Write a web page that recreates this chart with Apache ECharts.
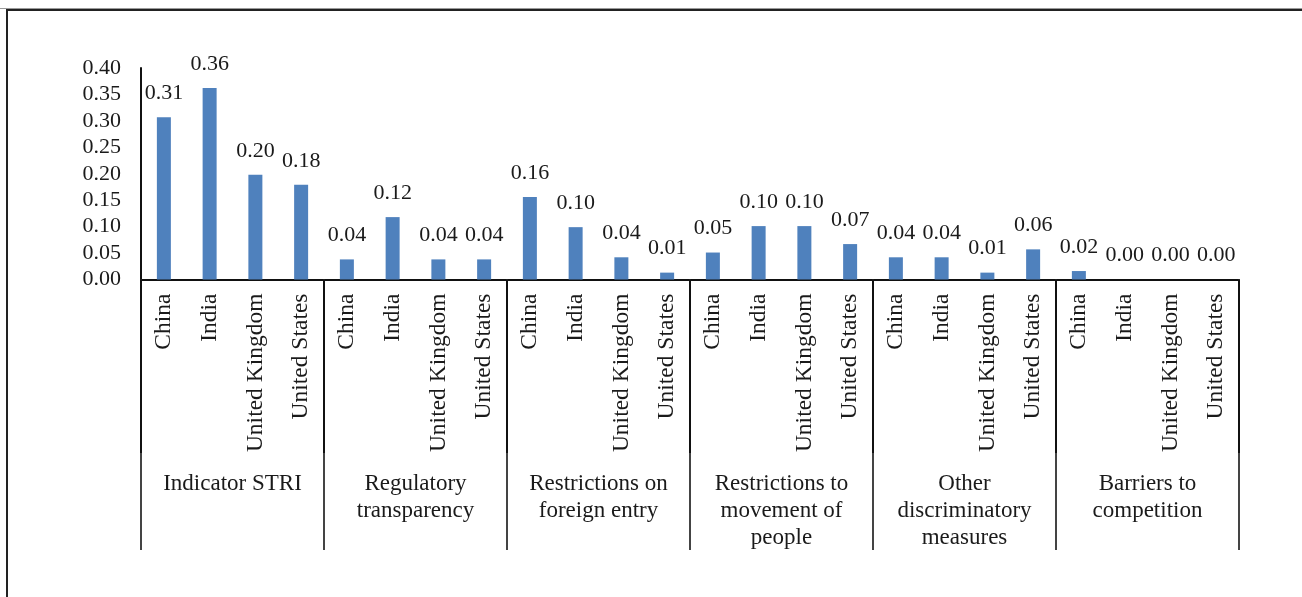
<!DOCTYPE html>
<html>
<head>
<meta charset="utf-8">
<script src="https://cdn.jsdelivr.net/npm/echarts@6/dist/echarts.min.js"></script>
<style>
  html, body { margin: 0; padding: 0; background: #fff; }
  #wrap { position: relative; width: 1302px; height: 597px; overflow: hidden; }
  #chart { position: absolute; left: 0; top: 0; width: 1302px; height: 597px; }
  .rule { position: absolute; pointer-events: none; }
</style>
</head>
<body>
<div id="wrap">
  <div class="rule" style="left:0;top:8px;width:1302px;height:1px;background:#9a9a9a;"></div>
  <div class="rule" style="left:6px;top:9px;width:1296px;height:588px;border-left:2px solid #222;border-top:2px solid #222;"></div>
  <div id="chart"></div>
</div>
<script>
// Countries compared within each policy area
const countries = ['China', 'India', 'United Kingdom', 'United States'];

// Policy areas (group labels under the country labels)
const areas = [
  'Indicator STRI',
  'Regulatory\ntransparency',
  'Restrictions on\nforeign entry',
  'Restrictions to\nmovement of\npeople',
  'Other\ndiscriminatory\nmeasures',
  'Barriers to\ncompetition'
];

// Index values per policy area, in the order of `countries`
const indicatorSTRI        = [0.307, 0.362, 0.198, 0.179];
const regulatoryTransp     = [0.038, 0.118, 0.038, 0.038];
const foreignEntry         = [0.156, 0.099, 0.042, 0.013];
const movementOfPeople     = [0.051, 0.101, 0.101, 0.067];
const otherDiscriminatory  = [0.042, 0.042, 0.013, 0.057];
const barriersCompetition  = [0.016, 0.000, 0.000, 0.000];

// Value-axis ticks
const yMin = 0, yMax = 0.40, yStep = 0.05;

const areaValues = [indicatorSTRI, regulatoryTransp, foreignEntry,
                    movementOfPeople, otherDiscriminatory, barriersCompetition];

const flatCats = [];
const flatVals = [];
areaValues.forEach(function (vals) {
  countries.forEach(function (c, i) { flatCats.push(c); flatVals.push(vals[i]); });
});

const FONT = '"Liberation Serif", "DejaVu Serif", serif';
const INK = '#1a1a1a';
const gridBox = { left: 141, right: 63, top: 68, bottom: 317.5 };
const upperTick = 173.5;   // dark part of the group separators
const fullTick = 270.5;    // whole separator, lighter below the country labels

const chart = echarts.init(document.getElementById('chart'), null, { renderer: 'canvas' });

chart.setOption({
  backgroundColor: 'transparent',
  animation: false,
  grid: [
    Object.assign({}, gridBox),
    Object.assign({}, gridBox),
    Object.assign({}, gridBox)
  ],
  xAxis: [
    {
      // country labels
      type: 'category', gridIndex: 0, data: flatCats, position: 'bottom',
      axisLine: { show: false }, axisTick: { show: false },
      axisLabel: { interval: 0, rotate: 90, margin: 14, fontFamily: FONT, fontSize: 23.5, color: INK }
    },
    {
      // policy area labels + full-length separators
      type: 'category', gridIndex: 1, data: areas, position: 'bottom',
      axisLine: { show: false },
      axisTick: { show: true, interval: 0, length: fullTick, lineStyle: { color: '#444', width: 2 } },
      axisLabel: { interval: 0, margin: 191, fontFamily: FONT, fontSize: 23, lineHeight: 27, color: INK, align: 'center' }
    },
    {
      // axis line + dark upper part of the separators
      type: 'category', gridIndex: 2, data: areas, position: 'bottom',
      axisLine: { show: true, lineStyle: { color: '#111', width: 2 } },
      axisTick: { show: true, interval: 0, length: upperTick, lineStyle: { color: '#111', width: 2 } },
      axisLabel: { show: false }
    }
  ],
  yAxis: [
    {
      type: 'value', gridIndex: 0, min: yMin, max: yMax, interval: yStep,
      axisLine: { show: true, lineStyle: { color: '#111', width: 2 } },
      axisTick: { show: false },
      splitLine: { show: false },
      axisLabel: { margin: 20, fontFamily: FONT, fontSize: 22, color: INK,
                   formatter: function (v) { return v.toFixed(2); } }
    },
    { type: 'value', gridIndex: 1, min: yMin, max: yMax, show: false },
    { type: 'value', gridIndex: 2, min: yMin, max: yMax, show: false }
  ],
  series: [
    {
      type: 'bar', xAxisIndex: 0, yAxisIndex: 0,
      data: flatVals, barWidth: 14,
      itemStyle: { color: '#4F81BD' },
      label: {
        show: true, position: 'top', distance: 13,
        fontFamily: FONT, fontSize: 22, color: INK,
        formatter: function (p) { return p.value.toFixed(2); }
      }
    }
  ]
});
</script>
</body>
</html>
